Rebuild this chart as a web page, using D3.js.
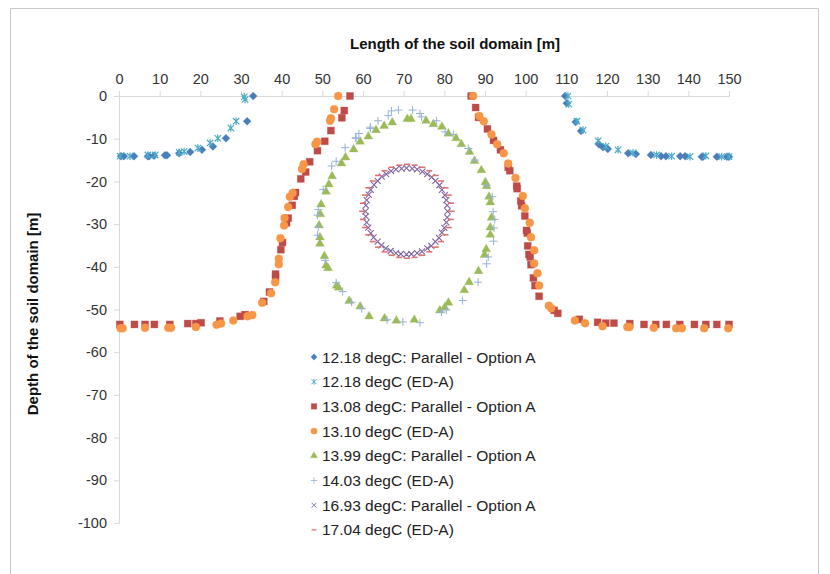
<!DOCTYPE html>
<html>
<head>
<meta charset="utf-8">
<script src="https://cdn.jsdelivr.net/npm/d3@7"></script>
<style>
  html, body { margin: 0; padding: 0; background: #fff; }
  svg { display: block; font-family: "Liberation Sans", Arial, sans-serif; }
</style>
</head>
<body>
<svg id="chart" width="830" height="574"></svg>
<script>
// Axis ticks
const xTicks = [0, 10, 20, 30, 40, 50, 60, 70, 80, 90, 100, 110, 120, 130, 140, 150];
const yTicks = [0, -10, -20, -30, -40, -50, -60, -70, -80, -90, -100];

// Series names, as shown in the legend
const seriesNames = [
  "12.18 degC: Parallel - Option A",
  "12.18 degC (ED-A)",
  "13.08 degC: Parallel - Option A",
  "13.10 degC (ED-A)",
  "13.99 degC: Parallel - Option A",
  "14.03 degC (ED-A)",
  "16.93 degC: Parallel - Option A",
  "17.04 degC (ED-A)"
];

// Isotherm points [length (m), depth (m)]
const s1218Parallel = [
  [0.5,-14.1],[1.2,-14.1],[3.7,-14.1],[7.1,-14.1],[7.4,-14.1],[8.6,-14.0],[11.3,-13.9],[11.8,-13.9],
  [14.8,-13.4],[17.5,-13.1],[20.4,-12.6],[23.1,-11.8],[26.3,-9.9],[31.5,-5.9],[33.0,0],
  [109.7,0],[110.1,-1.7],[112.3,-6.1],[113.6,-8.2],[118.0,-11.3],[119.0,-12.0],[120.2,-12.4],
  [125.2,-13.4],[127.1,-13.6],[130.8,-13.8],[133.3,-14.1],[134.5,-14.1],[138.0,-14.1],[139.2,-14.1],
  [143.3,-14.2],[143.6,-14.2],[147.0,-14.2],[149.5,-14.2],[150,-14.2]
];
const s1218EDA = [
  [0.3,-14.1],[2.7,-14.1],[7.1,-13.8],[8.9,-13.8],[14.8,-13.2],[16.0,-13.0],[19.4,-12.2],[22.4,-11.0],
  [24.3,-9.9],[27.5,-7.5],[28.8,-5.9],[30.8,-0.2],[31.0,-0.8],
  [110.4,0],[110.6,-1.9],[112.6,-5.9],[114.1,-8.0],[117.8,-10.5],[119.7,-11.8],[122.7,-12.6],
  [126.4,-13.3],[132.2,-13.8],[135.9,-14.1],[140.4,-14.2],[144.3,-14.0],[148.2,-14.2],[150,-14.2]
];
const s1308Parallel = [
  [0.2,-53.5],[3.8,-53.5],[6.4,-53.5],[8.7,-53.5],[12.5,-53.5],[16.9,-53.3],[18.9,-53.3],[20.2,-53.1],
  [24.8,-52.7],[29.8,-51.6],[31.0,-51.2],[35.6,-48.1],[37.0,-45.9],[38.5,-42.4],[38.5,-41.7],[39.8,-36.0],
  [40.2,-34.3],[41.2,-29.7],[41.6,-28.6],[42.6,-25.6],[43.1,-23.5],[43.4,-22.6],[44.7,-19.4],[45.9,-17.8],
  [46.9,-15.4],[48.8,-12.8],[50.6,-10.6],[52.1,-8.1],[54.8,-5.1],[55.4,-3.4],[56.8,0],
  [86.6,0],[87.7,-2.7],[88.4,-5.0],[90.6,-7.7],[92.1,-10.4],[93.8,-12.6],[95.7,-16.7],[96.1,-17.5],
  [97.8,-21.1],[97.9,-21.7],[98.8,-24.6],[99.0,-25.7],[99.8,-28.1],[100.2,-31.5],[100.4,-32.1],
  [100.5,-35.1],[100.8,-37.1],[101.1,-37.7],[101.3,-39.5],[101.9,-42.6],[102.3,-44.4],[103.3,-46.9],
  [107.0,-50.2],[107.9,-50.9],[113.2,-52.3],[117.7,-53.0],[119.7,-53.2],[121.7,-53.2],[125.6,-53.3],
  [129.1,-53.5],[132.0,-53.5],[134.6,-53.5],[137.9,-53.5],[141.5,-53.5],[144.3,-53.5],[147.0,-53.5],[150,-53.5]
];
const s1310EDA = [
  [0.4,-54.4],[0.9,-54.4],[6.4,-54.3],[12.1,-54.3],[12.8,-54.3],[18.9,-54.1],[24.0,-53.6],[25.1,-53.3],
  [28.1,-52.6],[31.6,-51.6],[32.8,-51.3],[35.2,-48.4],[37.4,-46.2],[38.4,-43.6],[39.3,-39.4],[39.3,-38.1],
  [39.7,-33.3],[40.6,-30.3],[40.7,-28.6],[41.6,-26.0],[42.0,-23.6],[42.7,-22.7],[45.0,-17.1],[45.4,-16.0],
  [48.3,-11.3],[48.7,-10.7],[51.9,-5.8],[52.1,-5.2],[52.9,-3.1],[53.9,0],
  [87.1,0],[88.6,-4.7],[89.7,-5.9],[91.6,-9.0],[93.0,-11.3],[94.6,-13.4],[95.7,-15.8],[97.5,-19.2],
  [99.3,-23.4],[99.8,-26.3],[101.0,-29.7],[101.3,-33.1],[102.1,-36.1],[102.1,-39.2],[102.9,-41.5],
  [103.3,-44.4],[105.7,-49.1],[106.3,-49.7],[112.1,-52.6],[114.6,-53.2],[118.9,-53.9],[125.0,-54.1],
  [125.5,-54.1],[131.5,-54.3],[137.0,-54.4],[138.4,-54.4],[143.9,-54.4],[149.8,-54.4]
];
const s1399Parallel = [
  [70.9,-5.4],[71.8,-5.4],[67.2,-6.2],[65.2,-7.0],[63.2,-8.0],[61.3,-9.5],[59.3,-10.7],[57.7,-12.5],
  [55.7,-14.4],[54.7,-15.8],[52.4,-18.8],[51.6,-20.7],[50.9,-22.4],[49.7,-25.4],[49.5,-27.7],[49.2,-30.3],
  [49.4,-33.1],[49.4,-34.6],[50.5,-37.5],[50.9,-39.7],[51.4,-40.3],[53.5,-44.4],[54.0,-44.9],[56.6,-48.0],
  [59.3,-49.3],[61.5,-51.6],[65.3,-52.1],[68.2,-52.6],[72.6,-52.4],
  [75.5,-5.8],[77.3,-6.6],[79.4,-7.2],[81.0,-8.8],[82.9,-9.9],[84.2,-11.3],[86.2,-13.1],[87.4,-15.2],
  [89.1,-17.4],[90.1,-20.2],[90.4,-21.1],[91.0,-23.6],[91.3,-24.9],[91.6,-28.5],[91.3,-30.8],[91.3,-32.5],
  [90.3,-35.9],[89.9,-37.2],[88.4,-41.0],[86.1,-43.6],[84.9,-45.5],[81.0,-48.4],[80.1,-49.5],[78.9,-50.2]
];
const s1403EDA = [
  [55.6,-12.1],[58.2,-9.8],[59.0,-8.8],[61.8,-7.3],[63.7,-5.8],[66.2,-4.6],[67.0,-3.5],[68.7,-3.3],
  [72.2,-3.3],[74.0,-4.1],[74.4,-4.9],[78.1,-5.8],[80.2,-8.4],[82.2,-9.0],[85.9,-12.3],[87.5,-15.0],
  [90.4,-20.9],[91.8,-23.6],[92.0,-27.1],[92.4,-28.9],[92.2,-30.9],[92.1,-34.0],[90.8,-37.7],[90.4,-39.3],
  [88.3,-43.6],[84.5,-47.9],[80.5,-50.1],[79.3,-50.6],[74.0,-53.1],[69.8,-52.9],[65.9,-52.4],
  [59.7,-49.8],[57.2,-48.3],[55.0,-45.8],[53.4,-43.7],[50.7,-38.5],[48.8,-32.6],[49.0,-30.7],[48.8,-27.9],
  [49.0,-26.6],[50.2,-21.9],[52.3,-16.4],[53.4,-15.3],[58.3,-9.9],[61.8,-7.6]
];
const s1693Parallel = [
  [80.8,-27.0],[80.7,-25.6],[80.5,-24.4],[80.1,-23.2],[79.4,-22.0],[78.8,-20.9],[77.8,-19.9],[76.9,-19.0],
  [75.8,-18.3],[74.6,-17.7],[73.3,-17.2],[72.1,-17.0],[70.7,-16.9],[69.5,-17.0],[68.1,-17.2],[66.9,-17.6],
  [65.7,-18.3],[64.6,-18.9],[63.6,-19.9],[62.7,-20.8],[61.9,-22.0],[61.4,-23.1],[60.9,-24.4],[60.7,-25.6],
  [60.6,-27.0],[60.7,-28.2],[60.9,-29.6],[61.3,-30.8],[61.9,-32.1],[62.6,-33.1],[63.6,-34.1],[64.5,-35.0],
  [65.6,-35.7],[66.8,-36.3],[68.1,-36.8],[69.3,-37.0],[70.7,-37.1],[71.9,-37.0],[73.3,-36.8],[74.5,-36.4],
  [75.8,-35.7],[76.8,-35.1],[77.8,-34.1],[78.7,-33.2],[79.4,-32.0],[80.0,-30.9],[80.5,-29.6],[80.7,-28.4]
];
const s1704EDA = [
  [81.8,-27.0],[81.6,-25.1],[81.1,-23.2],[80.3,-21.5],[79.2,-19.9],[77.9,-18.6],[76.3,-17.5],[74.6,-16.7],
  [72.7,-16.2],[70.8,-16.0],[68.9,-16.2],[67.0,-16.7],[65.3,-17.5],[63.7,-18.6],[62.4,-19.9],[61.3,-21.5],
  [60.5,-23.2],[60.0,-25.1],[59.8,-27.0],[60.0,-28.9],[60.5,-30.8],[61.3,-32.5],[62.4,-34.1],[63.7,-35.4],
  [65.3,-36.5],[67.0,-37.3],[68.9,-37.8],[70.8,-38.0],[72.7,-37.8],[74.6,-37.3],[76.3,-36.5],[77.9,-35.4],
  [79.2,-34.1],[80.3,-32.5],[81.1,-30.8],[81.6,-28.9]
];

const seriesData = [s1218Parallel, s1218EDA, s1308Parallel, s1310EDA, s1399Parallel, s1403EDA, s1693Parallel, s1704EDA];

// Marker styles per series
const markerStyles = [
  { kind: "diamond",  color: "#4a7ebb" },
  { kind: "asterisk", color: "#4bacc6" },
  { kind: "square",   color: "#be4b48" },
  { kind: "circle",   color: "#f79646" },
  { kind: "triangle", color: "#9bbb59" },
  { kind: "plus",     color: "#95b3d7" },
  { kind: "cross",    color: "#8064a2" },
  { kind: "dash",     color: "#dd7370" }
];

const svg = d3.select("#chart");

// Outer frame of the chart area
svg.append("path")
  .attr("d", "M10.5,580 V8.5 H818.5 V580")
  .attr("fill", "none")
  .attr("stroke", "#c8c8c8")
  .attr("stroke-width", 1);

const x = d3.scaleLinear().domain([0, 150]).range([119, 729]);
const y = d3.scaleLinear().domain([0, -100]).range([96, 523]);

const axisColor = "#d9d9d9";
const labelColor = "#333";
const tickFont = "14.5px";

// Top x axis at depth 0
const gx = svg.append("g")
  .attr("transform", `translate(0,${y(0)})`)
  .call(d3.axisTop(x).tickValues(xTicks).tickSize(5).tickPadding(7).tickFormat(d => String(d)));
gx.select(".domain").attr("stroke", axisColor);
gx.selectAll(".tick line").attr("stroke", axisColor);
gx.selectAll(".tick text").attr("fill", labelColor).style("font-size", tickFont).style("font-family", "Liberation Sans, Arial, sans-serif");

// Left y axis
const gy = svg.append("g")
  .attr("transform", `translate(${x(0)},0)`)
  .call(d3.axisLeft(y).tickValues(yTicks).tickSize(5).tickPadding(7).tickFormat(d => String(d)));
gy.select(".domain").attr("stroke", axisColor);
gy.selectAll(".tick line").attr("stroke", axisColor);
gy.selectAll(".tick text").attr("fill", labelColor).style("font-size", tickFont).style("font-family", "Liberation Sans, Arial, sans-serif");

// Axis titles
svg.append("text")
  .attr("x", 455).attr("y", 49)
  .attr("text-anchor", "middle")
  .style("font-size", "15px").style("font-weight", "bold").attr("fill", "#111")
  .text("Length of the soil domain [m]");

svg.append("text")
  .attr("transform", "translate(38,314) rotate(-90)")
  .attr("text-anchor", "middle")
  .style("font-size", "15px").style("font-weight", "bold").attr("fill", "#111")
  .text("Depth of the soil domain [m]");

// Marker drawing
function drawMarker(sel, style) {
  const c = style.color;
  switch (style.kind) {
    case "diamond":
      sel.append("path").attr("d", "M0,-4L4,0L0,4L-4,0Z").attr("fill", c).attr("stroke", c).attr("stroke-width", 0.6).attr("stroke-opacity", 0.5);
      break;
    case "square":
      sel.append("rect").attr("x", -3.5).attr("y", -3.5).attr("width", 7).attr("height", 7).attr("fill", c).attr("stroke", c).attr("stroke-opacity", 0.4).attr("stroke-width", 0.8);
      break;
    case "circle":
      sel.append("circle").attr("r", 4).attr("fill", c).attr("stroke", c).attr("stroke-opacity", 0.4).attr("stroke-width", 0.8);
      break;
    case "triangle":
      sel.append("path").attr("d", d3.symbol(d3.symbolTriangle, 34)()).attr("fill", c).attr("stroke", c).attr("stroke-opacity", 0.4).attr("stroke-width", 0.8);
      break;
    case "plus":
      sel.append("path").attr("d", "M-4,0H4M0,-4V4").attr("stroke", c).attr("stroke-width", 1).attr("fill", "none");
      break;
    case "cross":
      sel.append("path").attr("d", "M-3,-3L3,3M-3,3L3,-3").attr("stroke", c).attr("stroke-width", 1.1).attr("fill", "none");
      break;
    case "asterisk":
      sel.append("path").attr("d", "M-3.2,-3.2L3.2,3.2M-3.2,3.2L3.2,-3.2M0,-3.8V3.8").attr("stroke", c).attr("stroke-width", 1.2).attr("fill", "none");
      break;
    case "dash":
      sel.append("path").attr("d", "M-3,0H3").attr("stroke", c).attr("stroke-width", 1.6).attr("fill", "none");
      break;
  }
}

// Plot the series
const plot = svg.append("g");
seriesData.forEach((pts, i) => {
  const g = plot.append("g").attr("class", "series");
  pts.forEach(p => {
    const m = g.append("g").attr("transform", `translate(${x(p[0])},${y(p[1])})`);
    drawMarker(m, markerStyles[i]);
  });
});

// Legend
const legend = svg.append("g").attr("transform", "translate(314,357)");
seriesNames.forEach((name, i) => {
  const row = legend.append("g").attr("transform", `translate(0,${i * 24.7})`);
  const mk = row.append("g").attr("transform", "scale(0.8)");
  drawMarker(mk, markerStyles[i]);
  row.append("text")
    .attr("x", 8).attr("y", 5.5)
    .style("font-size", "15.5px").attr("fill", "#222")
    .text(name);
});
</script>
</body>
</html>
